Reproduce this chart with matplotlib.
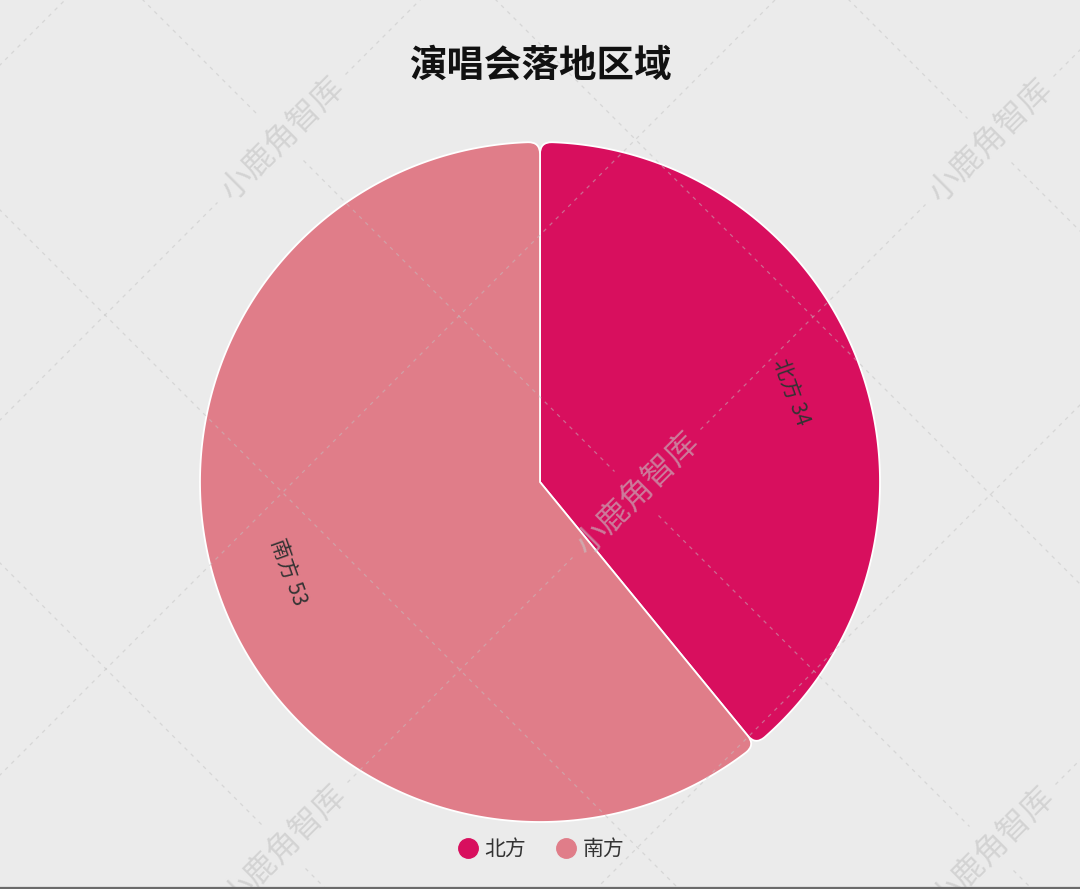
import numpy as np
import matplotlib
matplotlib.use("Agg")
import matplotlib.pyplot as plt
from matplotlib.path import Path
from matplotlib.patches import PathPatch
from matplotlib.lines import Line2D

plt.rcParams['font.family'] = ['Noto Sans CJK SC', 'DejaVu Sans']

# ---- data ----
title = "演唱会落地区域"
categories = ["北方", "南方"]
values = [34, 53]
colors = ["#D80F5E", "#E07D89"]
watermark = "小鹿角智库"

W, H = 1080, 889
BG = "#EBEBEB"
fig = plt.figure(figsize=(W / 100, H / 100), dpi=100, facecolor=BG)
ax = fig.add_axes([0, 0, 1, 1])
ax.set_facecolor(BG)
ax.set_xlim(0, W)
ax.set_ylim(0, H)
ax.set_aspect('equal')
ax.axis('off')

cx, cy_s, R = 540, 482, 340
cy = H - cy_s

wedges, _ = ax.pie(values, colors=colors, startangle=90, counterclock=False,
                   center=(cx, cy), radius=R, frame=True)


def rounded_path(c, r, t1, t2, rc):
    x0, y0 = c
    o = np.array([x0, y0])
    u = lambda t: np.array([np.cos(np.radians(t)), np.sin(np.radians(t))])
    d = np.degrees(rc / r)
    verts = [(x0, y0)]
    codes = [Path.MOVETO]
    verts.append(tuple(o + (r - rc) * u(t1)))
    codes.append(Path.LINETO)
    verts.append(tuple(o + r * u(t1)))
    verts.append(tuple(o + r * u(t1 + d)))
    codes += [Path.CURVE3, Path.CURVE3]
    for t in np.linspace(t1 + d, t2 - d, 300)[1:]:
        verts.append(tuple(o + r * u(t)))
        codes.append(Path.LINETO)
    verts.append(tuple(o + r * u(t2)))
    verts.append(tuple(o + (r - rc) * u(t2)))
    codes += [Path.CURVE3, Path.CURVE3]
    verts.append((x0, y0))
    codes.append(Path.LINETO)
    verts.append((x0, y0))
    codes.append(Path.CLOSEPOLY)
    return Path(verts, codes)


for w, col in zip(wedges, colors):
    w.set_visible(False)
    p = rounded_path(w.center, w.r, w.theta1, w.theta2, 12)
    ax.add_patch(PathPatch(p, facecolor=col, edgecolor='white', lw=1.3, zorder=2))

# slice labels (tangential)
for w, cat, v in zip(wedges, categories, values):
    mid = 0.5 * (w.theta1 + w.theta2)
    rot = mid - 90
    while rot > 90:
        rot -= 180
    while rot < -90:
        rot += 180
    rr = 0.785 * R
    x = cx + rr * np.cos(np.radians(mid))
    y = cy + rr * np.sin(np.radians(mid))
    ax.text(x, y, f"{cat} {v}", rotation=rot, rotation_mode='anchor',
            ha='center', va='center', fontsize=15, color='#333333', zorder=4)

# title
fig.text(0.5, 1 - 65 / H, title, ha='center', va='center', fontsize=27,
         fontweight='bold', color='#111111')

# legend
handles = [Line2D([], [], marker='o', ls='', color=c, markersize=14) for c in colors]
leg = fig.legend(handles, categories, loc='center', bbox_to_anchor=(0.5, 1 - 849 / H),
                 ncol=2, frameon=False, fontsize=15, handletextpad=0.2,
                 columnspacing=1.3, labelcolor='#333333', handlelength=1.2)

# ---- watermark lattice (diagonal dashed lines + rotated text) ----
s0, s_step = 420, 355
d0, d_step = -143, 353
centers = []
for k in range(-4, 10, 2):
    for j in range(-8, 8, 2):
        s = s0 + s_step * k
        d = d0 + d_step * j
        x = (s - d) / 2
        ys = (s + d) / 2
        if 0 < x < W and 0 < ys < H:
            centers.append((x, ys))

line_kw = dict(ls=(0, (3, 4)), color='#c2c2c2', lw=0.9, alpha=0.5, zorder=5)


def draw_gapped(sign, c0, gap_dx):
    # screen line: y_s = c0 + sign * x
    xs_breaks = sorted(x for (x, ys) in centers if abs(ys - (c0 + sign * x)) < 3)
    segs = []
    start = -50
    for xb in xs_breaks:
        segs.append((start, xb - gap_dx))
        start = xb + gap_dx
    segs.append((start, W + 50))
    for a, b in segs:
        if b > a:
            xx = np.array([a, b])
            ax.plot(xx, H - (c0 + sign * xx), **line_kw)


for k in range(-3, 8):
    draw_gapped(-1, s0 + s_step * k, 64)      # up-right lines (along text)
for j in range(-6, 6):
    draw_gapped(1, d0 + d_step * j, 22)       # down-right lines (across text)

for (x, ys) in centers:
    ax.text(x, H - ys, watermark, rotation=45, ha='center', va='center',
            fontsize=23, color='#c4c4c4', alpha=0.6, zorder=6,
            rotation_mode='anchor')

# thin dark strip at the bottom edge
ax.axhline(0.8, color='#6a6a6a', lw=1.6, zorder=7)

ax.set_xlim(0, W)
ax.set_ylim(0, H)
fig.savefig("out.png", dpi=100, facecolor=BG)
